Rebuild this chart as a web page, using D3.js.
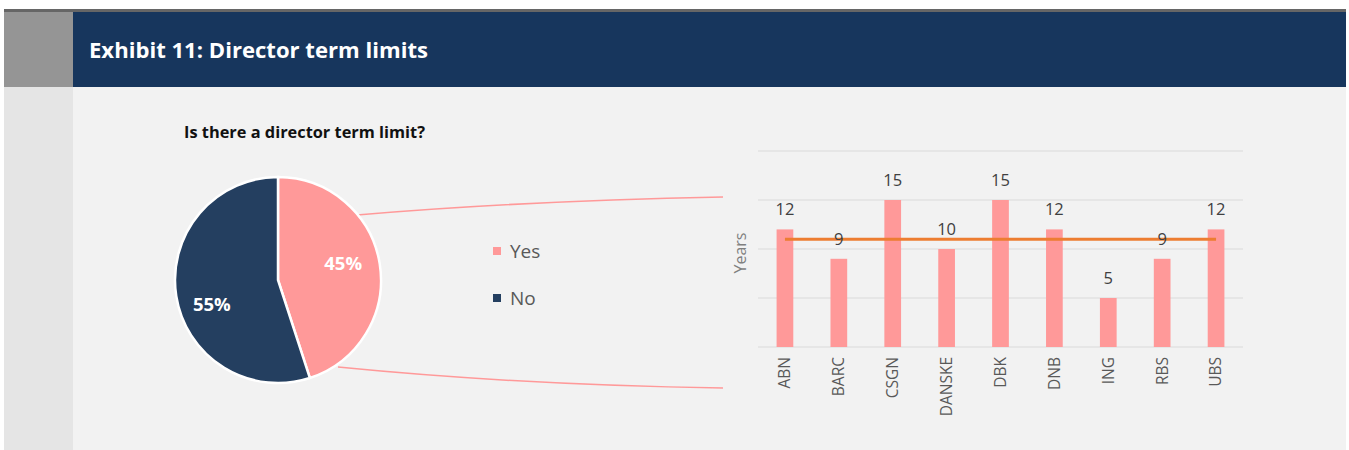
<!DOCTYPE html>
<html lang="en">
<head>
<meta charset="UTF-8">
<title>Exhibit 11: Director term limits</title>
<script src="https://d3js.org/d3.v7.min.js"></script>
<style>
  body { margin: 0; background: #fff; font-family: 'Open Sans', 'Lato', sans-serif; }
  svg { display: block; }
</style>
</head>
<body>
<div id="chart"></div>
<script>
// data
const pieLabels = ["Yes", "No"];
const pieValues = [45, 55];
const pieColors = ["#ff9999", "#243f60"];

const banks = ["ABN", "BARC", "CSGN", "DANSKE", "DBK", "DNB", "ING", "RBS", "UBS"];
const termYears = [12, 9, 15, 10, 15, 12, 5, 9, 12];
const yTicks = [0, 5, 10, 15, 20];

const W = 1349, H = 450;
const svg = d3.select("#chart").append("svg").attr("width", W).attr("height", H);

// frame
svg.append("rect").attr("x", 4).attr("y", 9).attr("width", 1342).attr("height", 3).attr("fill", "#666");
svg.append("rect").attr("x", 4).attr("y", 12).attr("width", 69).attr("height", 75).attr("fill", "#959595");
svg.append("rect").attr("x", 73).attr("y", 12).attr("width", 1273).attr("height", 75).attr("fill", "#17365d");
svg.append("rect").attr("x", 4).attr("y", 87).attr("width", 69).attr("height", 363).attr("fill", "#e5e5e5");
svg.append("rect").attr("x", 73).attr("y", 87).attr("width", 1273).attr("height", 363).attr("fill", "#f2f2f2");

svg.append("text").attr("x", 89).attr("y", 58)
  .attr("fill", "#fff").attr("font-weight", "bold").attr("font-size", 21)
  .attr("textLength", 339).attr("lengthAdjust", "spacingAndGlyphs")
  .text("Exhibit 11: Director term limits");

svg.append("text").attr("x", 184).attr("y", 138)
  .attr("fill", "#111").attr("font-weight", "bold").attr("font-size", 15.5)
  .attr("textLength", 241).attr("lengthAdjust", "spacingAndGlyphs")
  .text("Is there a director term limit?");

// connector curves (drawn behind pie)
const conn = svg.append("g").attr("fill", "none").attr("stroke", "#ff9999").attr("stroke-width", 1.5);
conn.append("path").attr("d", "M357,215 Q520,201 723,197");
conn.append("path").attr("d", "M338,367 Q520,385 723,388");

// pie
const cx = 278, cy = 280, r = 103;
const pie = d3.pie().sort(null).value(d => d)(pieValues);
const arc = d3.arc().innerRadius(0).outerRadius(r);
const pg = svg.append("g").attr("transform", `translate(${cx},${cy})`);
pg.selectAll("path").data(pie).enter().append("path")
  .attr("d", arc)
  .attr("fill", (d, i) => pieColors[i])
  .attr("stroke", "#fff").attr("stroke-width", 2.5);
// Excel-style label spots, nudged from the arc centroid
const labelArc = d3.arc().innerRadius(r * 0.66).outerRadius(r * 0.66);
const nudge = [[-2, -6], [1, 14]];
pg.selectAll("text").data(pie).enter().append("text")
  .attr("transform", (d, i) => {
    const c = labelArc.centroid(d);
    return `translate(${c[0] + nudge[i][0]},${c[1] + nudge[i][1]})`;
  })
  .attr("text-anchor", "middle").attr("dy", "0.35em")
  .attr("fill", "#fff").attr("font-weight", "bold").attr("font-size", 18.5)
  .text(d => d.data + "%");

// pie legend
const lg = svg.append("g").attr("transform", "translate(493,247)");
pieLabels.forEach((l, i) => {
  const g = lg.append("g").attr("transform", `translate(0,${i * 47})`);
  g.append("rect").attr("width", 8).attr("height", 8).attr("fill", pieColors[i]);
  g.append("text").attr("x", 17).attr("y", 11).attr("font-size", 19).attr("fill", "#595959").text(l);
});

// bar chart
const x = d3.scaleBand().domain(banks).range([758, 1243]).paddingInner(0.69).paddingOuter(0.345);
const y = d3.scaleLinear().domain([0, 20]).range([347, 151]);

const grid = svg.append("g");
grid.selectAll("line").data(yTicks).enter().append("line")
  .attr("x1", 758).attr("x2", 1243)
  .attr("y1", d => y(d)).attr("y2", d => y(d))
  .attr("stroke", "#d9d9d9").attr("stroke-width", 1.2);

svg.append("g").selectAll("rect").data(termYears).enter().append("rect")
  .attr("x", (d, i) => x(banks[i]))
  .attr("y", d => y(d))
  .attr("width", x.bandwidth())
  .attr("height", d => y(0) - y(d))
  .attr("fill", "#ff9999");

const avg = d3.mean(termYears);
svg.append("line")
  .attr("x1", x(banks[0]) + x.bandwidth() / 2)
  .attr("x2", x(banks[banks.length - 1]) + x.bandwidth() / 2)
  .attr("y1", y(avg)).attr("y2", y(avg))
  .attr("stroke", "#ed7d31").attr("stroke-width", 3);

svg.append("g").selectAll("text").data(termYears).enter().append("text")
  .attr("x", (d, i) => x(banks[i]) + x.bandwidth() / 2)
  .attr("y", d => y(d) - 14)
  .attr("text-anchor", "middle").attr("font-size", 16.5).attr("fill", "#404040")
  .text(d => d);

const xAxis = svg.append("g").attr("transform", "translate(0,347)")
  .call(d3.axisBottom(x).tickSize(0).tickPadding(0));
xAxis.select(".domain").remove();
xAxis.selectAll("text")
  .attr("transform", "rotate(-90)")
  .attr("x", -10).attr("y", 0).attr("dy", "0.35em")
  .attr("text-anchor", "end")
  .attr("font-size", 15.5).attr("font-family", "'Open Sans', Lato, sans-serif")
  .attr("fill", "#595959");

svg.append("text")
  .attr("transform", "translate(746,253) rotate(-90)")
  .attr("text-anchor", "middle").attr("font-size", 16).attr("fill", "#7f7f7f")
  .text("Years");
</script>
</body>
</html>
